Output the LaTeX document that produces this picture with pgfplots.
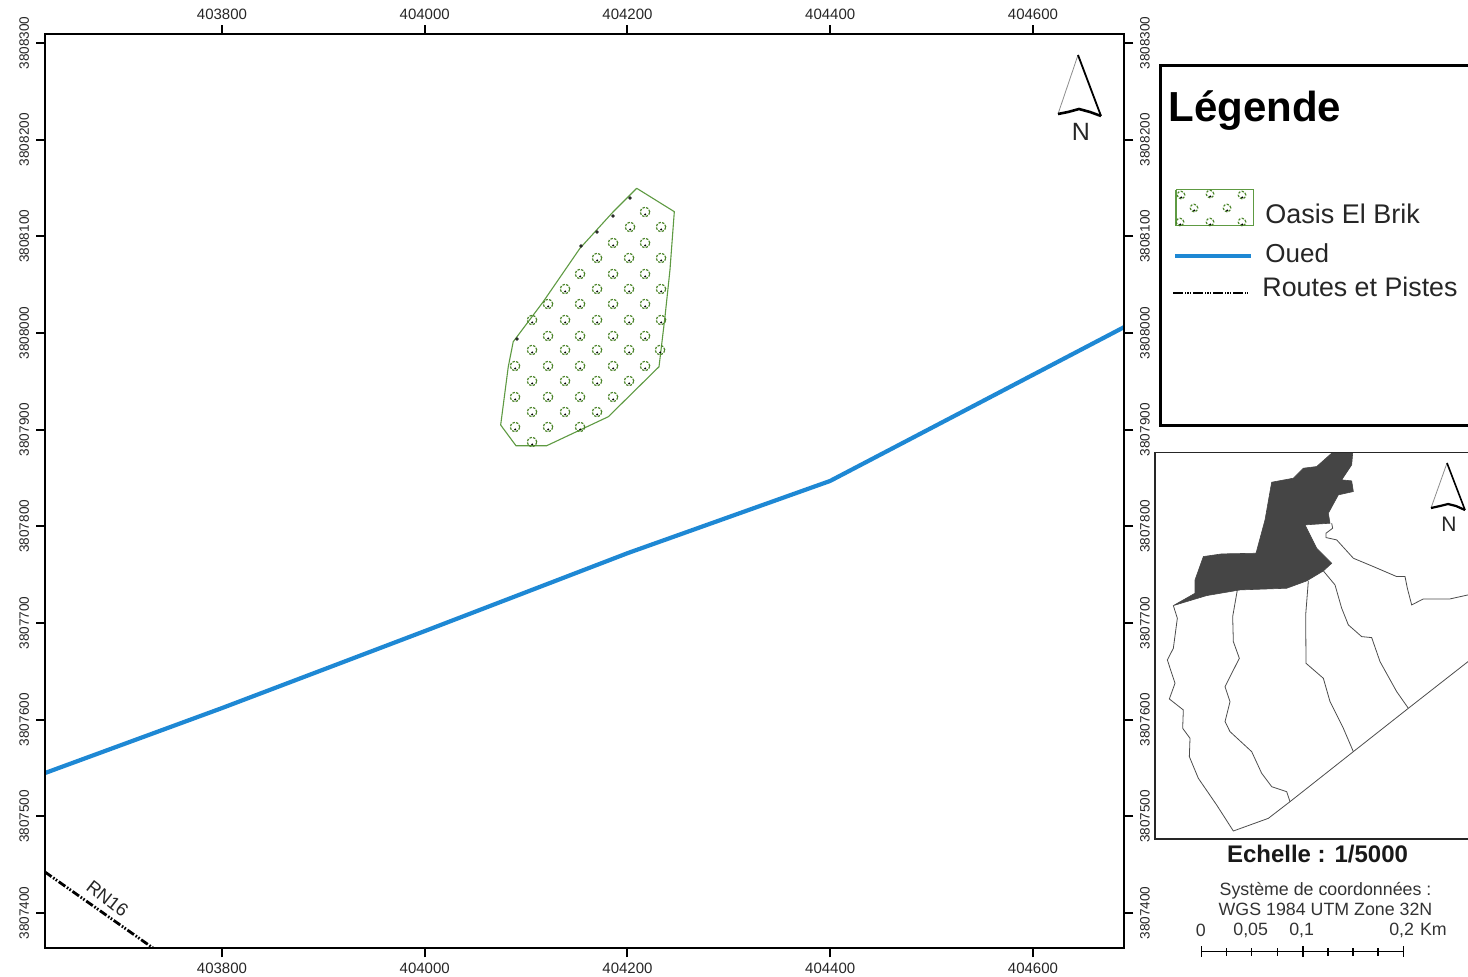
\documentclass[border=0pt]{standalone}
\usepackage{pgfplots}
\usepackage{fontspec}
\pgfplotsset{compat=1.18}
\setmainfont{Liberation Sans}

\definecolor{oued}{HTML}{1E88D4}
\definecolor{oasis}{HTML}{5E9A42}
\definecolor{palmgreen}{HTML}{4A8428}
\definecolor{zone}{HTML}{454545}

% palm symbol of the oasis fill
\pgfdeclareplotmark{palm}{%
  \pgfsetlinewidth{0.6pt}%
  \pgfsetdash{{1.2pt}{0.7pt}}{0pt}%
  \pgfpathcircle{\pgfpointorigin}{\pgfplotmarksize}%
  \pgfusepathqstroke
  \pgfsetdash{}{0pt}%
  \pgfsetfillcolor{black}%
  \pgfpathcircle{\pgfpoint{0.1pt}{-1.2pt}}{0.55pt}%
  \pgfusepathqfill
}

% map coordinates are stored minus 403000 (x) and 3807000 (y)
\pgfplotsset{mapframe/.style={
  at={(22.5pt,14pt)}, anchor=south west,
  width=539.5pt, height=457pt, scale only axis,
  xmin=625.4, xmax=1689.8, ymin=363.8, ymax=1309.3,
  xtick={800,1000,1200,1400,1600},
  xticklabels={403800,404000,404200,404400,404600},
  ytick={400,500,600,700,800,900,1000,1100,1200,1300},
  yticklabels={3807400,3807500,3807600,3807700,3807800,3807900,3808000,3808100,3808200,3808300},
  tick align=outside,
  tick style={black, line width=1pt},
  major tick length=4.5pt,
  axis line style={line width=0.75pt},
  tick label style={font=\fontsize{7.5}{8}\selectfont, text=black!85},
  y tick label style={rotate=90, font=\fontsize{6.8}{8}\selectfont},
}}

\begin{document}
\begin{tikzpicture}
\useasboundingbox (0,0) rectangle (734pt,488pt);

% main map, labels bottom and left
\begin{axis}[mapframe,
  xticklabel pos=bottom, yticklabel pos=left,
  y tick label style={anchor=south},
  x tick label style={yshift=0.5pt}]
\addplot[oasis, line width=0.55pt, fill=white] coordinates {
  (1209.1,1149.7) (1246.2,1125.5) (1241.9,1065.2) (1237,1016.9) (1231.1,965.1)
  (1181.1,913.4) (1120.3,883.4) (1090,883.4) (1074.9,904.8) (1082.4,965.1)
  (1087.3,991) (1116.9,1032.4) (1153.1,1087.6) (1186,1125.5) (1209.1,1149.7)};
\addplot[oued, line width=2.1pt] coordinates {
  (625.4,544.8) (800,612) (1000.2,691.7) (1200.5,772.4) (1399.8,846.9) (1689.8,1006)};
\addplot[black, line width=1.4pt, dash pattern=on 4pt off 1pt on 0.8pt off 0.8pt on 0.8pt off 1pt] coordinates {
  (625.4,442.4) (731.9,363.8)};
\node[rotate=-38, font=\fontsize{9.2}{10}\selectfont, text=black!85] at (axis cs:687,415) {RN16};
\end{axis}

% same frame again for the labels at top and right
\begin{axis}[mapframe,
  xticklabel pos=top, yticklabel pos=right,
  y tick label style={anchor=north},
  x tick label style={yshift=-1pt}]
\end{axis}

% everything beside the map, in picture pixels
\begin{axis}[
  at={(0pt,0pt)}, anchor=south west,
  width=734pt, height=488pt, scale only axis,
  xmin=0, xmax=1468, ymin=0, ymax=976, y dir=reverse,
  hide axis, clip=false]

% palms inside the oasis
\addplot[only marks, mark=palm, mark size=2.4pt, palmgreen] table {
x y
645 212
630 227
661 227
613 243
645 243
597 258
629 258
661 258
580 274
613 274
645 274
565 289
597 289
629 289
661 289
548 304
580 304
613 304
645 304
532 320
565 320
597 320
629 320
661 320
548 336
580 336
613 336
645 336
532 350
565 350
597 350
629 350
660 350
515 366
548 366
580 366
613 366
645 366
532 381
565 381
597 381
629 381
515 397
548 397
580 397
613 397
532 412
565 412
597 412
515 427
548 427
580 427
532 442
};
% dark specks on the oasis edge
\addplot[only marks, mark=*, mark size=0.7pt, black!85] coordinates {
  (613,216) (597,232) (581,246) (517,339) (630,198)};

% north arrow, main map
\addplot[black!45, line width=0.4pt] coordinates {(1078,55) (1058,114)};
\addplot[black, line width=0.9pt] coordinates {(1078,55) (1101,116)};
\addplot[black, line width=1.3pt] coordinates {(1058,114) (1068,112) (1079,109) (1090,112) (1101,116)};
\node[font=\fontsize{12.5}{13}\selectfont, text=black!85] at (axis cs:1081,132) {N};

% legend
\draw[black, line width=1.5pt] (axis cs:1160,65) rectangle (axis cs:1490,425);
\node[anchor=base west, inner sep=0pt, font=\fontsize{21}{22}\selectfont\bfseries] at (axis cs:1168,121) {Légende};
\addplot[oasis, line width=0.6pt] coordinates {
  (1176,189.5) (1253.5,189.5) (1253.5,225.5) (1176,225.5) (1176,189.5)};
\addplot[only marks, mark=palm, mark size=1.9pt, palmgreen] coordinates {
  (1194,208) (1227,208) (1210,194) (1242,195) (1181,195) (1180,222) (1210,222) (1242,222)};
\addplot[oued, line width=2pt] coordinates {(1175,255.5) (1251,255.5)};
\addplot[black, line width=1.1pt, dash pattern=on 5pt off 1pt on 0.6pt off 0.6pt on 0.6pt off 0.6pt on 0.6pt off 1pt] coordinates {(1173,293) (1248,293)};
\node[anchor=base west, inner sep=0pt, font=\fontsize{13.5}{14}\selectfont, text=black!85] at (axis cs:1265,223) {Oasis El Brik};
\node[anchor=base west, inner sep=0pt, font=\fontsize{13}{14}\selectfont, text=black!85] at (axis cs:1265,262) {Oued};
\node[anchor=base west, inner sep=0pt, font=\fontsize{13.4}{14}\selectfont, text=black!85] at (axis cs:1262,296) {Routes et Pistes};

% north arrow, inset
\addplot[black!45, line width=0.4pt] coordinates {(1447,463) (1431,508)};
\addplot[black, line width=0.8pt] coordinates {(1447,463) (1465,510)};
\addplot[black, line width=1.1pt] coordinates {(1431,508) (1440,506) (1448,504) (1456,506) (1465,510)};
\node[font=\fontsize{10.5}{11}\selectfont, text=black!85] at (axis cs:1449,524) {N};

% scale text
\node[font=\fontsize{12}{13}\selectfont\bfseries, text=black!90] at (axis cs:1317.5,854) {Echelle : 1/5000};
\node[font=\fontsize{8.9}{10}\selectfont, text=black!80] at (axis cs:1325.5,890.5) {Système de coordonnées :};
\node[font=\fontsize{8.9}{10}\selectfont, text=black!80] at (axis cs:1325.5,909) {WGS 1984 UTM Zone 32N};
\node[font=\fontsize{8.9}{10}\selectfont, text=black!80] at (axis cs:1200.7,930) {0};
\node[font=\fontsize{8.9}{10}\selectfont, text=black!80] at (axis cs:1250.7,930) {0,05};
\node[font=\fontsize{8.9}{10}\selectfont, text=black!80] at (axis cs:1301.7,930) {0,1};
\node[font=\fontsize{8.9}{10}\selectfont, text=black!80] at (axis cs:1418,930) {0,2\hspace{3pt}Km};

% scale bar
\addplot[black, line width=0.55pt] coordinates {(1201.5,951.5) (1403.5,951.5)};
\addplot[black, line width=0.55pt] coordinates {(1201.5,946) (1201.5,957)};
\addplot[black, line width=0.55pt] coordinates {(1303,946) (1303,957)};
\addplot[black, line width=0.55pt] coordinates {(1403.5,946) (1403.5,957)};
\addplot[black, line width=0.55pt] coordinates {(1226.5,948) (1226.5,956)};
\addplot[black, line width=0.55pt] coordinates {(1251.5,948) (1251.5,956)};
\addplot[black, line width=0.55pt] coordinates {(1277.5,948) (1277.5,956)};
\addplot[black, line width=0.55pt] coordinates {(1328,948) (1328,956)};
\addplot[black, line width=0.55pt] coordinates {(1353,948) (1353,956)};
\addplot[black, line width=0.55pt] coordinates {(1378,948) (1378,956)};
\end{axis}

% inset map, in units of its own box
\begin{axis}[
  at={(577.5pt,68.5pt)}, anchor=south west,
  width=166.5pt, height=193.4pt, scale only axis,
  xmin=45, xmax=1044, ymin=22, ymax=1182, y dir=reverse,
  xtick=\empty, ytick=\empty,
  axis line style={line width=0.6pt, black!85}]
\addplot[fill=zone, draw=zone, line width=0.3pt] coordinates {
  (100,482) (165,445) (165,405) (190,335) (245,327) (348,325) (375,225) (395,112)
  (460,100) (490,70) (530,65) (575,25) (638,25) (635,60) (605,105) (635,108)
  (640,140) (595,150) (565,205) (570,235) (495,240) (530,310) (575,355) (550,378)
  (500,408) (440,430) (300,435) (200,452) (100,482)};
\addplot[black!70, line width=0.4pt] coordinates {
  (100,482) (112,520) (100,610) (82,645) (105,715) (88,762) (130,795) (128,850)
  (150,880) (148,935) (175,1000) (230,1080) (280,1158) (385,1120) (450,1070)
  (640,920) (805,790) (984,650) (1044,600)};
\addplot[black!70, line width=0.4pt] coordinates {
  (292,435) (278,515) (280,590) (298,640) (255,725) (270,770) (255,830) (270,860)
  (335,920) (365,985) (395,1025) (440,1040) (450,1070)};
\addplot[black!70, line width=0.4pt] coordinates {
  (505,408) (497,510) (498,655) (550,700) (570,770) (610,850) (640,920)};
\addplot[black!70, line width=0.4pt] coordinates {
  (550,378) (585,420) (605,490) (625,540) (665,575) (695,578) (720,650) (770,740) (805,790)};
\addplot[black!70, line width=0.4pt] coordinates {
  (575,235) (578,250) (558,265) (558,278) (590,285) (640,340) (700,365) (770,395)
  (795,395) (802,430) (815,480) (850,462) (930,462) (984,450) (1044,445)};
\end{axis}

\end{tikzpicture}
\end{document}
